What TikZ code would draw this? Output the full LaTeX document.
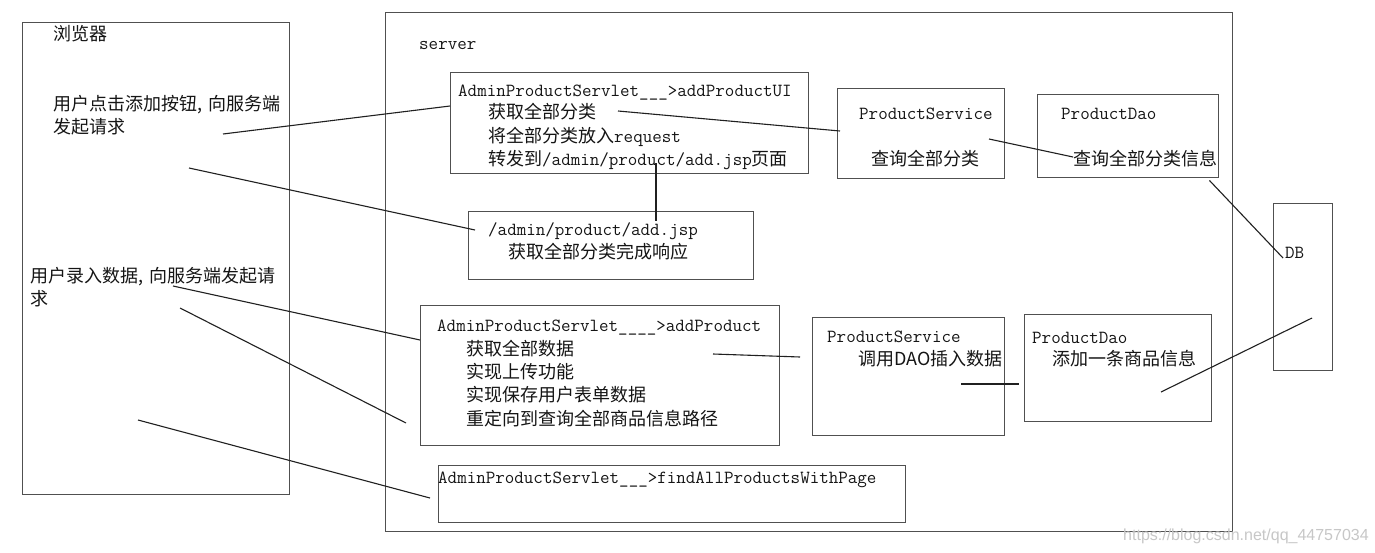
\documentclass[tikz,border=0pt]{standalone}
\usepackage{fontspec}
\newfontfamily\cjk{Noto Sans CJK SC}
\newfontfamily\wmfont{Liberation Sans}
\usetikzlibrary{calc}
\definecolor{boxcol}{HTML}{505050}
\definecolor{linecol}{HTML}{202020}
\definecolor{txt}{HTML}{151515}
\newcommand\mylat[1]{{\fontsize{18.5}{23}\selectfont\ttfamily #1}}
\tikzset{
  box/.style={draw=boxcol, line width=1.4pt, anchor=north west, inner sep=0pt, fill=none},
  zh/.style={anchor=base west, inner sep=0pt, font=\fontsize{18}{23}\selectfont\cjk, text=txt},
  en/.style={anchor=base west, inner sep=0pt, font=\fontsize{18.5}{23}\selectfont\ttfamily, text=txt},
  link/.style={draw=linecol, line width=1.1pt},
}
\begin{document}
\begin{tikzpicture}[x=1pt,y=-1pt]
\useasboundingbox[fill=white] (0,0) rectangle (1375,552);

% boxes
\node[box, minimum width=267pt, minimum height=472pt] (browser) at (22,22) {};
\node[box, minimum width=847pt, minimum height=519pt] (server) at (385,12) {};
\node[box, minimum width=358pt, minimum height=101pt] (A) at (450,72) {};
\node[box, minimum width=285pt, minimum height=68pt] (B) at (468,211) {};
\node[box, minimum width=167pt, minimum height=90pt] (PS1) at (837,88) {};
\node[box, minimum width=181pt, minimum height=83pt] (PD1) at (1037,94) {};
\node[box, minimum width=59pt, minimum height=167pt] (DB) at (1273,203) {};
\node[box, minimum width=359pt, minimum height=140pt] (C) at (420,305) {};
\node[box, minimum width=192pt, minimum height=118pt] (PS2) at (812,317) {};
\node[box, minimum width=187pt, minimum height=107pt] (PD2) at (1024,314) {};
\node[box, minimum width=467pt, minimum height=57pt] (D) at (438,465) {};

% browser texts
\node[zh] (t0) at (53,40) {浏览器};
\node[zh] (t1) at (53,110) {用户点击添加按钮,\hspace{6pt}向服务端};
\node[zh] (t2) at (53,133) {发起请求};
\node[zh] (t3) at (30,282) {用户录入数据,\hspace{6pt}向服务端发起请};
\node[zh] (t4) at (30,305) {求};

% server texts
\node[en] (ts) at (419,49) {server};
\node[en] (a1) at (458,96) {AdminProductServlet\_\_\_>addProductUI};
\node[zh] (a2) at (488,118) {获取全部分类};
\node[zh] (a3) at (488,142) {将全部分类放入\mylat{request}};
\node[zh] (a4) at (488,165) {转发到\mylat{/admin/product/add.jsp}页面};
\node[en] (b1) at (488,235) {/admin/product/add.jsp};
\node[zh] (b2) at (508,258) {获取全部分类完成响应};
\node[en] (p1) at (859,119) {ProductService};
\node[zh] (p2) at (871,165) {查询全部分类};
\node[en] (d1) at (1061,119) {ProductDao};
\node[zh] (d2) at (1073,165) {查询全部分类信息};
\node[en] (db) at (1285,258) {DB};
\node[en] (c1) at (437,331) {AdminProductServlet\_\_\_\_>addProduct};
\node[zh] (c2) at (466,355) {获取全部数据};
\node[zh] (c3) at (466,378) {实现上传功能};
\node[zh] (c4) at (466,401) {实现保存用户表单数据};
\node[zh] (c5) at (466,425) {重定向到查询全部商品信息路径};
\node[en] (q1) at (827,342) {ProductService};
\node[zh] (q2) at (858,365) {调用DAO插入数据};
\node[en] (e1) at (1032,343) {ProductDao};
\node[zh] (e2) at (1052,365) {添加一条商品信息};
\node[en] (f1) at (438,483) {AdminProductServlet\_\_\_>findAllProductsWithPage};
\node[anchor=base west, inner sep=0pt, font=\fontsize{16}{18}\selectfont\wmfont, text=black!22] (wm) at (1123,540) {https://blog.csdn.net/qq\_44757034};

% free ends
\coordinate (s1) at (223,134);
\coordinate (s2) at (189,168);
\coordinate (s3) at (618,111);
\coordinate (s7) at (173,286);
\coordinate (s8) at (180,308);
\coordinate (e8) at (406,423);
\coordinate (s9) at (138,420);
\coordinate (e9) at (430,498);
\coordinate (s10) at (713,354);

% connectors
\draw[link] (s1) -- ($(A.north west)+(0,34)$);
\draw[link] (s2) -- ($(B.north west)+(7,19)$);
\draw[link] (s3) -- ($(PS1.north west)+(3,43)$);
\draw[link] ($(A.north west)+(206,91)$) -- ($(B.north west)+(188,10)$);
\draw[link] ($(PS1.north west)+(152,51)$) -- ($(PD1.north west)+(36,63)$);
\draw[link] ($(PD1.south east)+(-10,2)$) -- ($(DB.north west)+(10,55)$);
\draw[link] (s7) -- ($(C.north west)+(0,35)$);
\draw[link] (s8) -- (e8);
\draw[link] (s9) -- (e9);
\draw[link] (s10) -- ($(PS2.north west)+(-12,40)$);
\draw[link] ($(PS2.north west)+(149,67)$) -- ($(PD2.north west)+(-5,70)$);
\draw[link] ($(PD2.north west)+(137,78)$) -- ($(DB.north west)+(39,115)$);
\end{tikzpicture}
\end{document}
